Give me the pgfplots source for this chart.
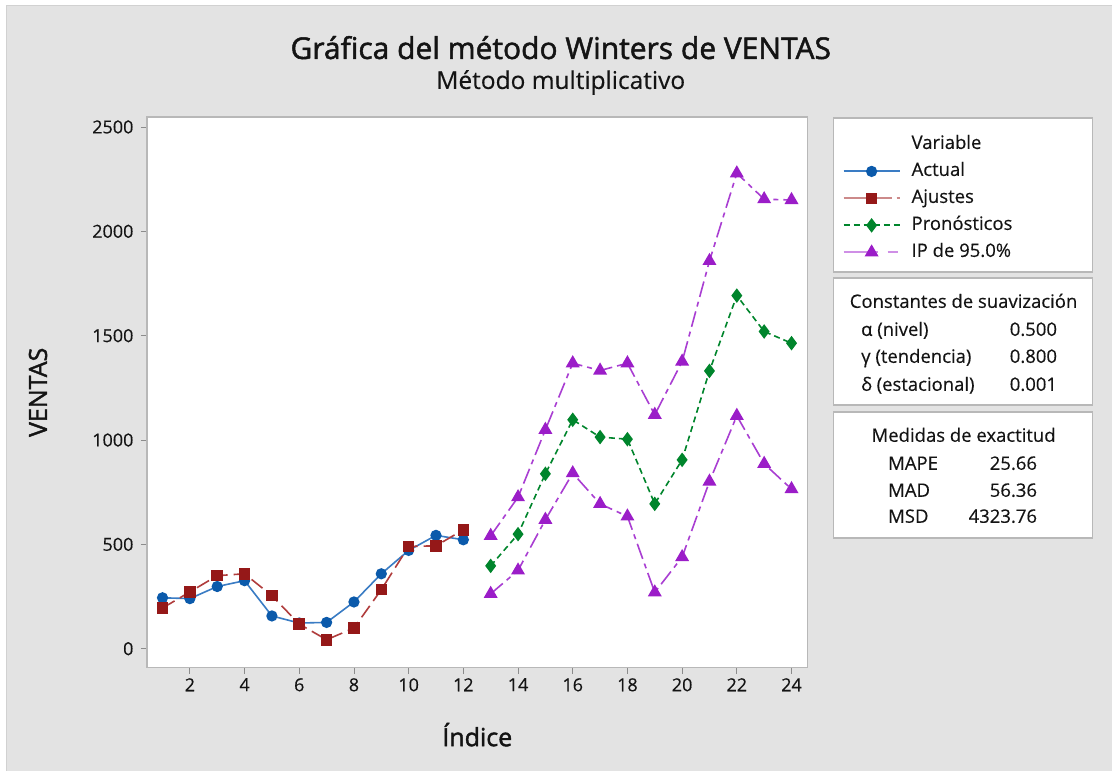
\documentclass[border=0pt]{standalone}
\usepackage{pgfplots}
\pgfplotsset{compat=1.18}
\usepackage{pgfplotstable}
\usepackage{fontspec}
\setmainfont{Open Sans}[FakeBold=0.3]
\newfontfamily\heavy[FakeBold=1.6]{Open Sans}

\definecolor{bg}{HTML}{E3E3E3}
\definecolor{frame}{HTML}{B8B8B8}
\definecolor{txt}{HTML}{141414}
\definecolor{actual}{HTML}{0B5AAB}
\definecolor{actualline}{HTML}{3A7CC4}
\definecolor{ajus}{HTML}{951818}
\definecolor{ajusline}{HTML}{B03C3C}
\definecolor{ajuslegend}{HTML}{CC8A8A}
\definecolor{pron}{HTML}{00852C}
\definecolor{ip}{HTML}{9B1DC8}
\definecolor{ipline}{HTML}{A93ED2}
\definecolor{iplegend}{HTML}{CF8FE6}

% periods 1-12: actual series and fitted values
\pgfplotstableread{
x actual ajustes
1  244 195
2  240 272
3  298 350
4  326 359
5  157 254
6  123 118
7  126  43
8  224  99
9  359 283
10 471 490
11 543 493
12 522 570
}\fitted

% periods 13-24: forecast and 95% prediction interval
\pgfplotstableread{
x pron lower upper
13  397 263  541
14  549 375  726
15  838 618 1049
16 1097 841 1368
17 1014 694 1333
18 1004 634 1368
19  694 270 1121
20  905 439 1376
21 1331 801 1858
22 1692 1116 2278
23 1520 886 2154
24 1464 765 2150
}\forecast

\newcommand{\ff}[1]{\fontsize{#1}{#1}\selectfont}

\begin{document}
\begin{tikzpicture}[x=1pt,y=1pt]
% page background
\fill[white] (0,0) rectangle (1112,771);
\fill[bg] (7,0) rectangle (1112,765);
\draw[black!18,line width=1pt] (7,0) -- (7,765) -- (1112,765);

% titles
\node[anchor=base,text=txt,font=\heavy\ff{30}] at (561,712) {Gráfica del método Winters de VENTAS};
\node[anchor=base,text=txt,font=\ff{24.5}] at (561,682) {Método multiplicativo};

% side boxes
\filldraw[fill=white,draw=frame,line width=1.5pt] (834,499) rectangle (1093,653);
\filldraw[fill=white,draw=frame,line width=1.5pt] (834,366) rectangle (1093,493);
\filldraw[fill=white,draw=frame,line width=1.5pt] (834,233) rectangle (1093,359);

\begin{scope}[text=txt,font=\ff{18.5}]
\node[anchor=base] at (964,463) {Constantes de suavización};
\node[anchor=base west] at (858,435) {α (nivel)};
\node[anchor=base west] at (858,408) {γ (tendencia)};
\node[anchor=base west] at (858,380) {δ (estacional)};
\node[anchor=base east] at (1061,435) {0.500};
\node[anchor=base east] at (1061,408) {0.800};
\node[anchor=base east] at (1061,380) {0.001};
\node[anchor=base] at (964,329) {Medidas de exactitud};
\node[anchor=base west] at (885,301) {MAPE};
\node[anchor=base west] at (885,274) {MAD};
\node[anchor=base west] at (885,248) {MSD};
\node[anchor=base east] at (1041,301) {25.66};
\node[anchor=base east] at (1041,274) {56.36};
\node[anchor=base east] at (1041,248) {4323.76};
\end{scope}

\begin{axis}[
  at={(147pt,103pt)}, anchor=south west,
  scale only axis, width=661pt, height=551pt,
  xmin=0.43, xmax=24.59, ymin=-91, ymax=2548,
  xtick={2,4,...,24}, ytick={0,500,...,2500},
  tick pos=left, tick align=outside,
  major tick length=6pt,
  tick style={draw=black!45,line width=0.8pt},
  axis line style={draw=frame,line width=1.5pt},
  axis background/.style={fill=white},
  ticklabel style={font=\ff{18},text=txt},
  yticklabel style={xshift=-4pt},
  xticklabel style={yshift=-1pt},
  /pgf/number format/assume math mode=true,
  /pgf/number format/set thousands separator={},
  xlabel={Índice}, ylabel={VENTAS},
  label style={font=\heavy\ff{25},text=txt},
  xlabel style={at={(axis description cs:0.5,0)},anchor=center,yshift=-67pt},
  ylabel style={at={([xshift=-109pt]axis description cs:0,0.5)},anchor=center},
  legend image code/.code={%
    \draw[mark repeat=2,mark phase=2,#1,line width=2pt] plot coordinates {(0pt,0pt) (28pt,0pt) (56pt,0pt)};},
  legend style={draw=none,fill=none,at={(rel axis cs:1,1)},anchor=north west,
    xshift=35pt,yshift=-19pt,inner sep=0pt,outer sep=0pt,
    font=\ff{18.5},text=txt,row sep=10pt,column sep=11pt,
    nodes={inner sep=0pt,text height=13pt,text depth=4pt}},
  legend cell align=left,
]
% data
\addplot[actualline,line width=1.6pt,mark=*,mark size=4.8pt,
  mark options={solid,fill=actual,draw=actual},forget plot] table[x=x,y=actual] {\fitted};
\addplot[ajusline,line width=1.6pt,dash pattern=on 14pt off 6pt,mark=square*,mark size=5pt,
  mark options={solid,fill=ajus,draw=ajus},forget plot] table[x=x,y=ajustes] {\fitted};
\addplot[pron,line width=1.6pt,dash pattern=on 6pt off 4pt,mark=diamond*,mark size=6pt,
  mark options={solid,fill=pron,draw=pron},forget plot] table[x=x,y=pron] {\forecast};
\addplot[ipline,line width=1.6pt,dash pattern=on 16pt off 5pt on 5pt off 5pt,mark=triangle*,mark size=6.5pt,
  mark options={solid,fill=ip,draw=ip},forget plot] table[x=x,y=upper] {\forecast};
\addplot[ipline,line width=1.6pt,dash pattern=on 16pt off 5pt on 5pt off 5pt,mark=triangle*,mark size=6.5pt,
  mark options={solid,fill=ip,draw=ip},forget plot] table[x=x,y=lower] {\forecast};

% legend
\addlegendimage{empty legend}
\addlegendentry{Variable}
\addlegendimage{actualline,mark=*,mark size=4.8pt,mark options={solid,fill=actual,draw=actual,line width=1.6pt}}
\addlegendentry{Actual}
\addlegendimage{ajuslegend,dash pattern=on 48pt off 5pt on 3pt off 10pt,mark=square*,mark size=5pt,mark options={solid,fill=ajus,draw=ajus,line width=1.6pt}}
\addlegendentry{Ajustes}
\addlegendimage{pron,dash pattern=on 6pt off 4pt,mark=diamond*,mark size=6pt,mark options={solid,fill=pron,draw=pron,line width=1.6pt}}
\addlegendentry{Pronósticos}
\addlegendimage{iplegend,dash pattern=on 34pt off 10pt on 10pt off 10pt,mark=triangle*,mark size=6.5pt,mark options={solid,fill=ip,draw=ip,line width=1.6pt}}
\addlegendentry{IP de 95.0\%}
\end{axis}
\end{tikzpicture}
\end{document}
